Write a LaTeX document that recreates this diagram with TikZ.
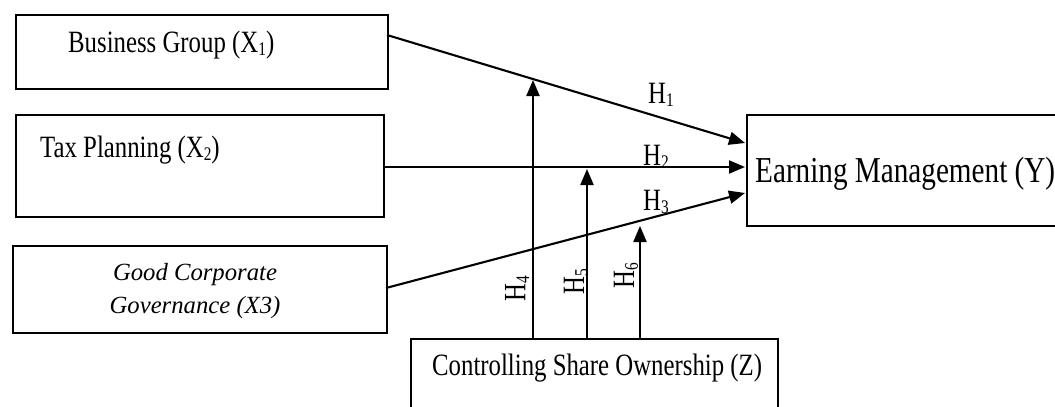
\documentclass[tikz,border=0pt]{standalone}
\usepackage{fontspec}
\setmainfont{Liberation Serif}
\newfontfamily\cond{Liberation Serif}[FakeStretch=0.8]
\usetikzlibrary{arrows.meta}
\newcommand{\sbs}[1]{\raisebox{-0.12em}{\scalebox{0.62}{#1}}}
\begin{document}
\begin{tikzpicture}[x=1pt,y=-1pt,
  box/.style={draw,line width=1.8pt,rectangle,inner sep=0pt,anchor=north west},
  conn/.style={line width=2.1pt,-{Triangle[length=16pt,width=13pt]}},
  lbl/.style={inner sep=0pt,font=\cond\fontsize{31}{33}\selectfont},
  big/.style={inner sep=0pt,font=\cond\fontsize{36.5}{40}\selectfont},
  itl/.style={inner sep=0pt,font=\itshape\fontsize{24.7}{33}\selectfont}]
\clip (0,0) rectangle (1055,407);
\fill[white] (0,0) rectangle (1055,407);
% boxes
\node[box,minimum width=372pt,minimum height=74pt] (b1) at (15,14) {};
\node[box,minimum width=368pt,minimum height=102pt] (b2) at (15,114) {};
\node[box,minimum width=374pt,minimum height=87pt] (b3) at (12,245) {};
\node[box,minimum width=340pt,minimum height=111pt] (y) at (746,114) {};
\node[box,minimum width=367pt,minimum height=100pt] (z) at (410,338) {};
% texts
\node[lbl,anchor=base west] (t1) at (68,52) {Business Group (X\sbs{1})};
\node[lbl,anchor=base west] (t2) at (40,157) {Tax Planning (X\sbs{2})};
\node[itl,anchor=base] (t3a) at (195,280) {Good Corporate};
\node[itl,anchor=base] (t3b) at (195,313) {Governance (X3)};
\node[big,anchor=base west] (ty) at (755,182) {Earning Management (Y)};
\node[lbl,anchor=base west] (tz) at (432,375) {Controlling Share Ownership (Z)};
% connector points
\coordinate (s1) at (387,35);
\coordinate (e1) at (745,143);
\coordinate (s2) at (383,167);
\coordinate (e2) at (745,167);
\coordinate (s3) at (386,288);
\coordinate (e3) at (745,193);
\coordinate (p4) at (533,80);
\coordinate (p5) at (587,169);
\coordinate (p6) at (640,226);
\draw[conn] (s1) -- (e1);
\draw[conn] (s2) -- (e2);
\draw[conn] (s3) -- (e3);
\draw[conn] (p4 |- z.north) -- (p4);
\draw[conn] (p5 |- z.north) -- (p5);
\draw[conn] (p6 |- z.north) -- (p6);
% hypothesis labels
\node[lbl,anchor=base west] (h1) at (648,103) {H\sbs{1}};
\node[lbl,anchor=base west] (h2) at (643,165) {H\sbs{2}};
\node[lbl,anchor=base west] (h3) at (643,210) {H\sbs{3}};
\node[lbl,rotate=90] (h4) at (517,289) {H\sbs{4}};
\node[lbl,rotate=90] (h5) at (576,282) {H\sbs{5}};
\node[lbl,rotate=90] (h6) at (626,276) {H\sbs{6}};
\end{tikzpicture}
\end{document}
